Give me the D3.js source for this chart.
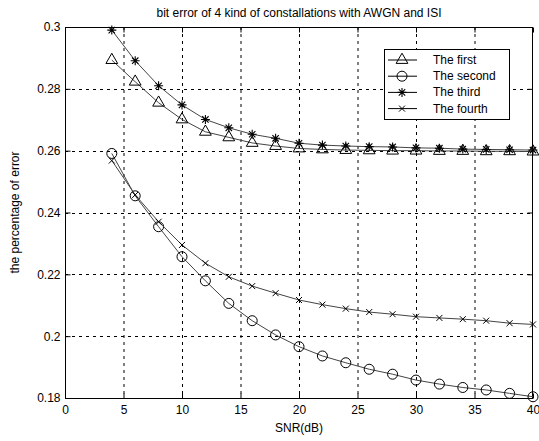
<!DOCTYPE html>
<html><head><meta charset="utf-8">
<script src="https://cdn.jsdelivr.net/npm/d3@7"></script>
<style>
html,body{margin:0;padding:0;background:#fff;}
text{font-family:"Liberation Sans",Arial,Helvetica,sans-serif;fill:#000;}
</style></head>
<body><svg id="c" width="539" height="441"></svg>
<script>
const snr = [4,6,8,10,12,14,16,18,20,22,24,26,28,30,32,34,36,38,40];
const first = [0.2893,0.2823,0.2755,0.2701,0.2661,0.2643,0.2625,0.2615,0.2607,0.2604,0.2602,0.2601,0.2600,0.2600,0.2599,0.2599,0.2598,0.2598,0.2597];
const second = [0.2591,0.2454,0.2354,0.2257,0.2179,0.2106,0.2050,0.2004,0.1966,0.1936,0.1914,0.1893,0.1877,0.1858,0.1845,0.1834,0.1826,0.1815,0.1804];
const third = [0.2990,0.2891,0.2810,0.2748,0.2701,0.2674,0.2653,0.2640,0.2624,0.2618,0.2615,0.2613,0.2612,0.2609,0.2608,0.2605,0.2604,0.2603,0.2602];
const fourth = [0.2568,0.2457,0.2370,0.2295,0.2236,0.2192,0.2162,0.2139,0.2117,0.2102,0.2089,0.2078,0.2071,0.2063,0.2059,0.2055,0.2050,0.2042,0.2038];
const seriesNames = ["The first","The second","The third","The fourth"];
const markerTypes = ["triangle","circle","star","cross"];
const xTicks = [0,5,10,15,20,25,30,35,40];
const yTicks = [0.18,0.2,0.22,0.24,0.26,0.28,0.3];
const titleText = "bit error of 4 kind of constallations with AWGN and ISI";
const xLabel = "SNR(dB)";
const yLabel = "the percentage of error";

const W = 539, H = 441;
const m = {left:65, right:6, top:27, bottom:43};
const svg = d3.select("#c");
const x = d3.scaleLinear().domain([0,40]).range([m.left, W-m.right]);
const y = d3.scaleLinear().domain([0.18,0.3]).range([H-m.bottom, m.top]);
const fs = 12;

// grid
const g = svg.append("g");
g.selectAll(".gx").data(xTicks.slice(1,-1)).join("line")
  .attr("x1",d=>x(d)+0.5).attr("x2",d=>x(d)+0.5)
  .attr("y1",y(0.3)).attr("y2",y(0.18))
  .attr("stroke","#000").attr("stroke-width",1).attr("stroke-dasharray","3,4");
g.selectAll(".gy").data(yTicks.slice(1,-1)).join("line")
  .attr("y1",d=>Math.round(y(d))+0.5).attr("y2",d=>Math.round(y(d))+0.5)
  .attr("x1",x(0)).attr("x2",x(40))
  .attr("stroke","#000").attr("stroke-width",1).attr("stroke-dasharray","3,4");

// axes (MATLAB style, inward ticks, box)
const ax = svg.append("g").attr("transform",`translate(0,${y(0.18)+0.5})`)
  .call(d3.axisBottom(x).tickValues(xTicks).tickSize(-5).tickPadding(7).tickFormat(d3.format("d")));
const ay = svg.append("g").attr("transform",`translate(${x(0)+0.5},0)`)
  .call(d3.axisLeft(y).tickValues(yTicks).tickSize(-5).tickPadding(5).tickFormat(d=>d3.format("~g")(d)));
const axT = svg.append("g").attr("transform",`translate(0,${y(0.3)+0.5})`)
  .call(d3.axisTop(x).tickValues(xTicks).tickSize(-5).tickFormat(""));
const ayR = svg.append("g").attr("transform",`translate(${x(40)-0.5},0)`)
  .call(d3.axisRight(y).tickValues(yTicks).tickSize(-5).tickFormat(""));
[ax,ay,axT,ayR].forEach(a=>{
  a.select(".domain").attr("stroke","#000");
  a.selectAll(".tick line").attr("stroke","#000");
  a.selectAll("text").attr("font-size",fs).attr("font-family","Liberation Sans, Arial, sans-serif").attr("fill","#000");
});
ax.selectAll(".domain").attr("d",`M${x(0)},0H${x(40)}`);
ay.selectAll(".domain").attr("d",`M0,${y(0.3)}V${y(0.18)}`);
axT.selectAll(".domain").attr("d",`M${x(0)},0H${x(40)}`);
ayR.selectAll(".domain").attr("d",`M0,${y(0.3)}V${y(0.18)}`);

// title & labels
svg.append("text").attr("x",(x(0)+x(40))/2).attr("y",17).attr("text-anchor","middle")
  .attr("font-size",fs).text(titleText);
svg.append("text").attr("x",(x(0)+x(40))/2).attr("y",432).attr("text-anchor","middle")
  .attr("font-size",fs).text(xLabel);
svg.append("text").attr("transform",`translate(19,${(y(0.18)+y(0.3))/2}) rotate(-90)`)
  .attr("text-anchor","middle").attr("font-size",fs).text(yLabel);

// markers
function drawMarker(sel, type){
  if(type==="triangle"){
    sel.append("path").attr("d",d3.symbol(d3.symbolTriangle,60)()).attr("fill","none").attr("stroke","#000").attr("stroke-width",1);
  } else if(type==="circle"){
    sel.append("circle").attr("r",5).attr("fill","none").attr("stroke","#000").attr("stroke-width",1);
  } else if(type==="star"){
    const r=4.5, r2=3.2;
    sel.append("path").attr("d",`M${-r},0H${r}M0,${-r}V${r}M${-r2},${-r2}L${r2},${r2}M${-r2},${r2}L${r2},${-r2}`)
      .attr("stroke","#000").attr("stroke-width",1.1).attr("fill","none");
  } else {
    const r=3;
    sel.append("path").attr("d",`M${-r},${-r}L${r},${r}M${-r},${r}L${r},${-r}`)
      .attr("stroke","#000").attr("stroke-width",1).attr("fill","none");
  }
}

const allSeries = [first, second, third, fourth];
const line = d3.line().x((d,i)=>x(snr[i])).y(d=>y(d));
allSeries.forEach((vals,k)=>{
  svg.append("path").datum(vals).attr("d",line).attr("fill","none")
    .attr("stroke","#444").attr("stroke-width",1);
  svg.append("g").selectAll("g").data(vals).join("g")
    .attr("transform",(d,i)=>`translate(${x(snr[i])},${y(d)})`)
    .each(function(){ drawMarker(d3.select(this), markerTypes[k]); });
});

// legend
const lg = svg.append("g").attr("transform","translate(384,49)");
lg.append("rect").attr("x",0.5).attr("y",0.5).attr("width",125).attr("height",70)
  .attr("fill","#fff").attr("stroke","#000");
seriesNames.forEach((name,k)=>{
  const yy = 11 + k*16.2;
  lg.append("line").attr("x1",4).attr("x2",33).attr("y1",yy).attr("y2",yy).attr("stroke","#000");
  const mg = lg.append("g").attr("transform",`translate(18,${yy})`);
  drawMarker(mg, markerTypes[k]);
  lg.append("text").attr("x",49).attr("y",yy+4).attr("font-size",fs).text(name);
});
</script></body></html>
